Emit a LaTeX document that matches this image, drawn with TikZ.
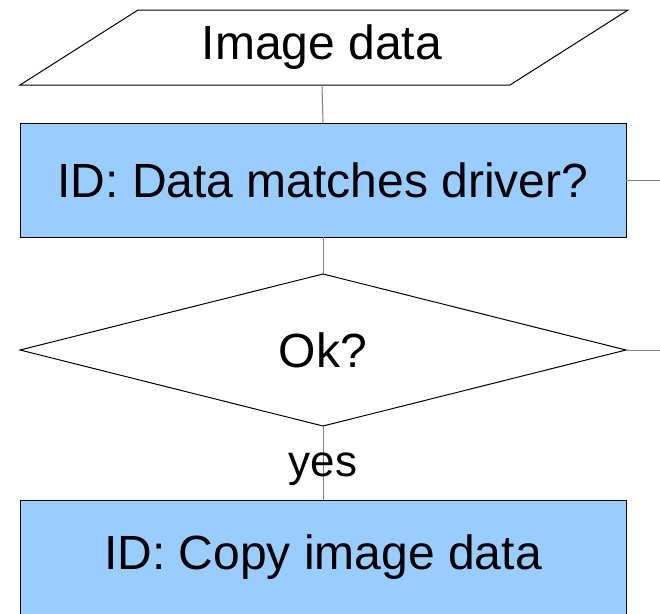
\documentclass[tikz,border=0pt]{standalone}
\usepackage{fontspec}
\setmainfont{Liberation Sans}
\usetikzlibrary{shapes.geometric}
\definecolor{boxblue}{HTML}{99CCFF}
\definecolor{conn}{HTML}{808080}
\begin{document}
\begin{tikzpicture}[x=1pt,y=-1pt,
  txt/.style={font=\fontsize{48}{56}\selectfont},
  procbox/.style={txt,draw=black,fill=boxblue,line width=1pt,minimum width=606pt,minimum height=114pt,inner sep=0pt,outer sep=0pt},
  decision/.style={txt,draw=black,line width=1pt,shape=diamond,aspect=4,minimum width=606pt,minimum height=152pt,inner sep=0pt,outer sep=0pt},
  connector/.style={draw=conn,line width=1pt}]
\useasboundingbox (0,0) rectangle (660,613);
\fill[white] (0,0) rectangle (660,613);
% parallelogram
\draw[line width=1pt] (138,10) -- (628,10) -- (510,85) -- (20,85) -- cycle;
\node[txt,inner sep=0pt,minimum width=490pt,minimum height=75pt] (img) at (322,47.5) {\raisebox{-3pt}{Image data}};
\node[procbox] (check) at (323,180) {\raisebox{-2pt}{ID: Data matches driver?}};
\node[decision] (ok) at (323,350) {\raisebox{-2pt}{Ok?}};
\node[procbox] (copy) at (323,557) {\raisebox{-2pt}{ID: Copy image data}};
\coordinate (r1) at (660,180);
\coordinate (r2) at (660,350);
\draw[connector] (img.south) -- (check.north);
\draw[connector] (check.south) -- (ok.north);
\draw[connector] (ok.south) -- node[txt,pos=0.5,yshift=-6pt,inner sep=0pt,font=\fontsize{44}{50}\selectfont]{yes} (copy.north);
\draw[connector] (check.east) -- (r1);
\draw[connector] (ok.east) -- (r2);
\end{tikzpicture}
\end{document}
